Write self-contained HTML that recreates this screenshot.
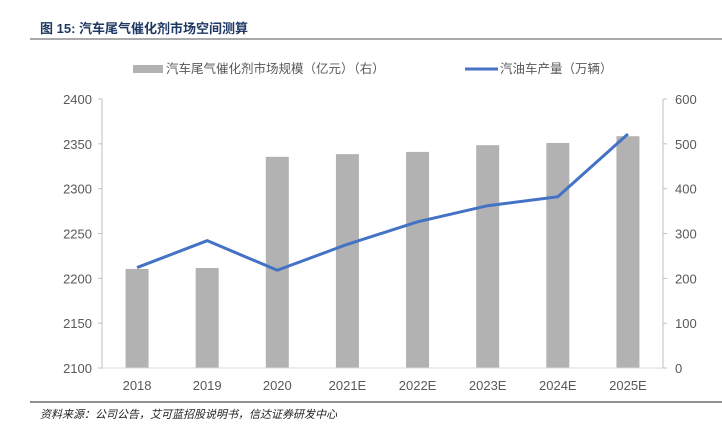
<!DOCTYPE html>
<html><head><meta charset="utf-8"><style>
body{margin:0;background:#fff;width:722px;height:443px;overflow:hidden;font-family:"Liberation Sans","Noto Sans CJK SC",sans-serif}
</style></head><body>
<svg width="722" height="443" xmlns="http://www.w3.org/2000/svg">
<text x="40" y="33" font-size="13" font-weight="bold" fill="#1f3864">图 15:  汽车尾气催化剂市场空间测算</text>
<line x1="30" y1="39" x2="722" y2="39" stroke="#555" stroke-width="1"/>
<g>
<rect x="133" y="65" width="30" height="8" fill="#b2b2b2"/>
<text x="166" y="73" font-size="12.5" fill="#595959">汽车尾气催化剂市场规模（亿元）（右）</text>
<line x1="465" y1="69" x2="498" y2="69" stroke="#4472c4" stroke-width="3"/>
<text x="500" y="73" font-size="12.5" fill="#595959">汽油车产量（万辆）</text>
</g>
<g id="plot"></g>
<line x1="30" y1="402" x2="722" y2="402" stroke="#222" stroke-width="1"/>
<text x="40" y="418" font-size="11" font-style="italic" fill="#222">资料来源：公司公告，艾可蓝招股说明书，信达证券研发中心</text>
</svg>
<script>
const categories=["2018","2019","2020","2021E","2022E","2023E","2024E","2025E"];
const marketSize=[221,223,471,477,482,497,502,517];
const production=[2212,2242,2209,2238,2263,2281,2291,2361];
const leftTicks=[2100,2150,2200,2250,2300,2350,2400];
const rightTicks=[0,100,200,300,400,500,600];
const NS="http://www.w3.org/2000/svg";
const g=document.getElementById("plot");
const L=102,R=663,T=99,B=368;
const band=(R-L)/categories.length;
const xc=i=>L+band*(i+0.5);
const yL=v=>B-(v-2100)/300*(B-T);
const yR=v=>B-v/600*(B-T);
function mk(t,a){const e=document.createElementNS(NS,t);for(const k in a)e.setAttribute(k,a[k]);g.appendChild(e);return e;}
let e;
e=mk("line",{x1:L,y1:T,x2:L,y2:B,stroke:"#bfbfbf"});


e=mk("line",{x1:R,y1:T,x2:R,y2:B,stroke:"#bfbfbf"});


leftTicks.forEach(v=>{
 e=mk("text",{x:L-10,y:yL(v)+5,"font-size":13,fill:"#595959","text-anchor":"end"});e.textContent=v;
 
 
 e=mk("line",{x1:L-4,y1:yL(v),x2:L,y2:yL(v),stroke:"#bfbfbf"});
 
 
});
rightTicks.forEach(v=>{
 e=mk("text",{x:R+12,y:yR(v)+5,"font-size":13,fill:"#595959"});e.textContent=v;
 
 
 e=mk("line",{x1:R,y1:yR(v),x2:R+4,y2:yR(v),stroke:"#bfbfbf"});
 
 
});
categories.forEach((c,i)=>{
 e=mk("rect",{x:xc(i)-11.5,y:yR(marketSize[i]),width:23,height:B-yR(marketSize[i]),fill:"#b2b2b2"});
 
 
 e=mk("text",{x:xc(i),y:B+22,"font-size":13,fill:"#595959","text-anchor":"middle"});e.textContent=c;
 
 
});
e=mk("line",{x1:L,y1:B,x2:R,y2:B,stroke:"#d9d9d9"});


e=mk("polyline",{points:production.map((v,i)=>xc(i)+","+yL(v)).join(" "),fill:"none",stroke:"#4472c4","stroke-width":3,"stroke-linejoin":"round"});


</script>
</body></html>
